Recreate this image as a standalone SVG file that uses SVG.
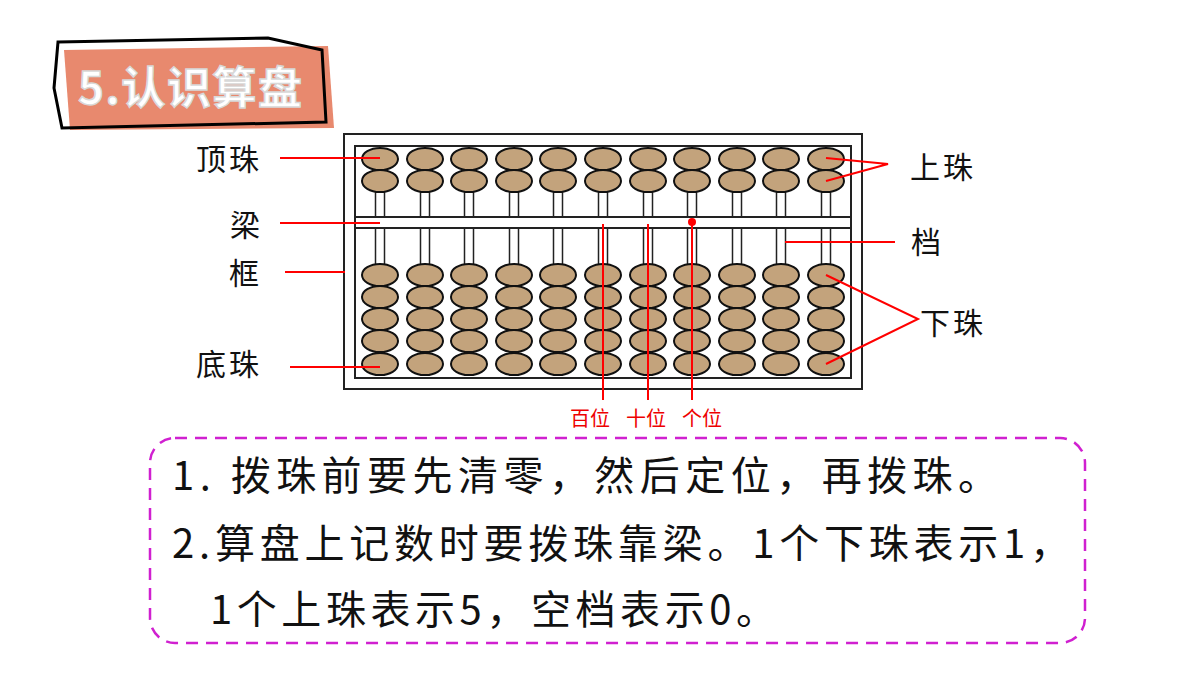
<svg xmlns="http://www.w3.org/2000/svg" width="1200" height="675" viewBox="0 0 1200 675">
<style>
.bead{fill:#c3a37c;stroke:#111;stroke-width:2}
.rod{fill:#fff;stroke:#222;stroke-width:1.5}
.red{stroke:#f00;stroke-width:2;fill:none}
.lbl{font-family:"Noto Sans CJK SC",sans-serif;font-size:30px;fill:#111;letter-spacing:3px}
.pos{font-family:"Noto Sans CJK SC",sans-serif;font-size:20px;fill:#e00}
.txt{font-family:"Noto Sans CJK SC",sans-serif;font-size:40px;fill:#111}
</style>
<defs>
<g id="col">
<rect class="rod" x="-4.5" y="150" width="9" height="225"/>
<ellipse class="bead" cx="0" cy="159" rx="18" ry="11"/>
<ellipse class="bead" cx="0" cy="181" rx="18" ry="11"/>
<ellipse class="bead" cx="0" cy="275" rx="18" ry="11"/>
<ellipse class="bead" cx="0" cy="297" rx="18" ry="11"/>
<ellipse class="bead" cx="0" cy="319" rx="18" ry="11"/>
<ellipse class="bead" cx="0" cy="341" rx="18" ry="11"/>
<ellipse class="bead" cx="0" cy="364" rx="18" ry="11"/>
</g>
</defs>
<rect width="1200" height="675" fill="#fff"/>
<g id="title">
<polygon points="64,50 328,46 334,128 70,130" fill="#e8896e"/>
<polygon points="58,42 268,38 322,50 326,122 62,128 54,88" fill="none" stroke="#000" stroke-width="3"/>
<text x="78" y="104" font-family="Noto Sans CJK SC,sans-serif" font-weight="bold" font-size="44" fill="#fff" stroke="#d8d8d8" stroke-width="1.5" textLength="224">5.认识算盘</text>
</g>
<g id="abacus">
<rect x="344" y="134" width="518" height="255" fill="#fff" stroke="#222" stroke-width="2"/>
<rect x="355" y="146" width="496" height="232" fill="#fff" stroke="#222" stroke-width="2"/>
<use href="#col" x="380"/><use href="#col" x="425"/><use href="#col" x="469"/><use href="#col" x="514"/><use href="#col" x="558"/><use href="#col" x="603"/><use href="#col" x="648"/><use href="#col" x="692"/><use href="#col" x="737"/><use href="#col" x="781"/><use href="#col" x="826"/>
<rect x="355" y="217" width="496" height="11" fill="#fff" stroke="#222" stroke-width="2"/>
</g>
<g id="connectors">
<line class="red" x1="280" y1="158" x2="380" y2="158"/>
<line class="red" x1="280" y1="223" x2="380" y2="223"/>
<line class="red" x1="285" y1="272" x2="345" y2="272"/>
<line class="red" x1="290" y1="367" x2="380" y2="367"/>
<polyline class="red" points="826,158 888,164 826,181"/>
<line class="red" x1="785" y1="242" x2="895" y2="242"/>
<polyline class="red" points="826,275 918,319 826,364"/>
<line class="red" x1="603" y1="224" x2="603" y2="400"/>
<line class="red" x1="648" y1="224" x2="648" y2="400"/>
<line class="red" x1="692" y1="222" x2="692" y2="400"/>
<circle cx="692" cy="222" r="4" fill="#f00"/>
</g>
<g id="labels">
<text class="lbl" x="196" y="170">顶珠</text>
<text class="lbl" x="230" y="236">梁</text>
<text class="lbl" x="229" y="284">框</text>
<text class="lbl" x="196" y="375">底珠</text>
<text class="lbl" x="910" y="178">上珠</text>
<text class="lbl" x="911" y="253">档</text>
<text class="lbl" x="920" y="334">下珠</text>
<text class="pos" x="570" y="426">百位</text>
<text class="pos" x="626" y="426">十位</text>
<text class="pos" x="682" y="426">个位</text>
</g>
<g id="note">
<rect x="150" y="438" width="935" height="205" rx="25" fill="none" stroke="#d020d0" stroke-width="2.5" stroke-dasharray="12,8"/>
<text class="txt" x="172" y="490" textLength="826">1. 拨珠前要先清零，然后定位，再拨珠。</text>
<text class="txt" x="172" y="558" textLength="898">2.算盘上记数时要拨珠靠梁。1个下珠表示1，</text>
<text class="txt" x="210" y="624" textLength="566">1个上珠表示5，空档表示0。</text>
</g>
</svg>
